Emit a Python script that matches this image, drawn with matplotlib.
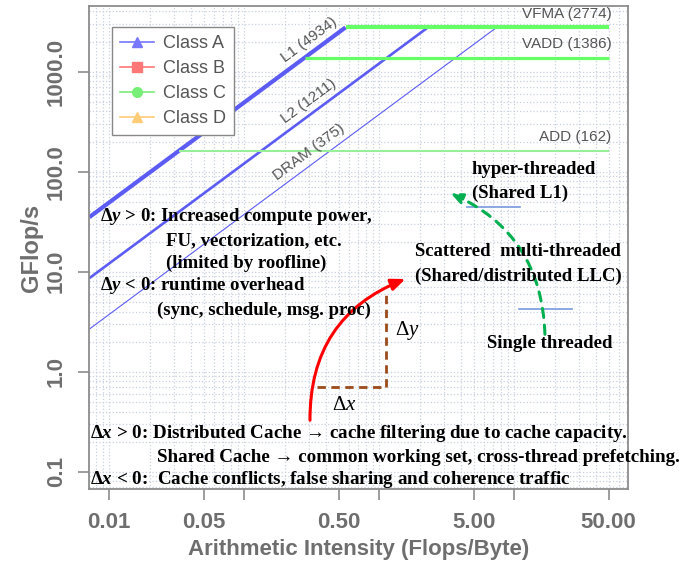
import numpy as np
import matplotlib
matplotlib.use("Agg")
from matplotlib import pyplot as plt
from matplotlib.lines import Line2D
from matplotlib.patches import FancyArrowPatch

plt.rcParams['font.family'] = ['Liberation Sans', 'DejaVu Sans']
plt.rcParams['mathtext.fontset'] = 'custom'
plt.rcParams['mathtext.rm'] = 'Liberation Serif'
plt.rcParams['mathtext.it'] = 'Liberation Serif:italic'
plt.rcParams['mathtext.bf'] = 'Liberation Serif:bold'
plt.rcParams['mathtext.bfit'] = 'Liberation Serif:bold:italic'

# roofline data
ceil_names = ["VFMA", "VADD", "ADD"]
ceil_gflops = [2774, 1386, 162]
bw_names = ["L1", "L2", "DRAM"]
bw_gbs = [4934, 1211, 375]
roof_xmax = 50.0

classes = ["Class A", "Class B", "Class C", "Class D"]
class_colors = ["#7777ff", "#ff7777", "#77ee77", "#ffcc77"]
class_markers = ["^", "s", "o", "^"]

xticks = [0.01, 0.05, 0.1, 0.5, 1, 5, 10, 50]
xticklabels = ["0.01", "0.05", "", "0.50", "", "5.00", "", "50.00"]
yticks = [0.1, 1, 10, 100, 1000]
yticklabels = ["0.1", "1.0", "10.0", "100.0", "1000.0"]

W, H = 699, 567
fig = plt.figure(figsize=(W / 100, H / 100), dpi=100)
ax = fig.add_axes([89.3 / W, 1 - 489.3 / H, (628 - 89.3) / W, (489.3 - 6) / H])
ax.set_xscale("log")
ax.set_yscale("log")
ax.set_xlim(0.00711, 69.5)
ax.set_ylim(0.0667, 4539)

gray = "#6e6e6e"
for s in ax.spines.values():
    s.set_color("#8c8c8c")
    s.set_linewidth(1.3)

ax.set_xticks(xticks)
ax.set_xticklabels(xticklabels)
ax.set_yticks(yticks)
ax.set_yticklabels(yticklabels, rotation=90, va="center")
ax.xaxis.set_minor_locator(matplotlib.ticker.LogLocator(subs=np.arange(2, 10), numticks=20))
ax.yaxis.set_minor_locator(matplotlib.ticker.LogLocator(subs=np.arange(2, 10), numticks=20))
ax.xaxis.set_minor_formatter(matplotlib.ticker.NullFormatter())
ax.yaxis.set_minor_formatter(matplotlib.ticker.NullFormatter())
ax.tick_params(which="major", direction="out", length=8, width=1.2, color="#8c8c8c",
               labelcolor=gray, labelsize=16, pad=8)
for lab in ax.get_xticklabels() + ax.get_yticklabels():
    lab.set_fontweight("bold")
ax.tick_params(which="minor", length=0)
ax.grid(which="both", color="#c9d0e0", linestyle=":", linewidth=0.9)
ax.set_axisbelow(True)

ax.set_xlabel("Arithmetic Intensity (Flops/Byte)", fontsize=16, fontweight="bold",
              color=gray, labelpad=5)
ax.set_ylabel("GFlop/s", fontsize=17, fontweight="bold", color=gray, labelpad=2)

# bandwidth roofs
x0 = ax.get_xlim()[0]
peak = max(ceil_gflops)
bw_lw = [3.0, 1.9, 0.8]
blue = "#5c5cf5"
fig.canvas.draw()
for name, bw, lw in zip(bw_names, bw_gbs, bw_lw):
    xr = peak / bw
    ax.plot([x0, xr], [bw * x0, bw * xr], color=blue, lw=lw, solid_capstyle="butt")
    xl = 0.3
    p1 = ax.transData.transform((xl, bw * xl))
    p2 = ax.transData.transform((xl * 10, bw * xl * 10))
    ang = np.degrees(np.arctan2(p2[1] - p1[1], p2[0] - p1[0]))
    ax.text(xl, bw * xl * 1.4, "%s (%d)" % (name, bw), rotation=ang, rotation_mode="anchor",
            ha="center", va="center", fontsize=11, color="#555555")

# compute ceilings
ceil_lw = [3.0, 2.3, 1.5]
ceil_colors = ["#66ff66", "#66ff66", "#99ee99"]
l1 = bw_gbs[0]
for name, c, lw, col in zip(ceil_names, ceil_gflops, ceil_lw, ceil_colors):
    ax.plot([c / l1, roof_xmax], [c, c], color=col, lw=lw, solid_capstyle="butt")
    ax.text(roof_xmax * 1.05, c * 1.37, "%s (%d)" % (name, c), ha="right", va="center",
            fontsize=11, color="#555555")

handles = [Line2D([], [], color=c, marker=m, markersize=7, lw=1.2)
           for c, m in zip(class_colors, class_markers)]
leg = ax.legend(handles, classes, loc="upper left",
                bbox_to_anchor=((111.7 - 89.3) / (628 - 89.3), 1 - (26.7 - 6) / (489.3 - 6)),
                borderaxespad=0, fontsize=13, handlelength=1.9, handletextpad=0.5,
                labelspacing=0.45, fancybox=False, framealpha=1, edgecolor="#888888",
                borderpad=0.45)
for t in leg.get_texts():
    t.set_color("#555555")


def px(x, y):
    return x / W, 1 - y / H


serif = ["Liberation Serif", "DejaVu Serif"]
tk = dict(transform=fig.transFigure, fontsize=13.5, fontweight="bold", family=serif,
          color="black", va="center", ha="left", zorder=10)

left_lines = [
    (100, 217, r"$\mathbf{\Delta}\mathbfit{y}$ > 0: Increased compute power,"),
    (166, 241, "FU, vectorization, etc."),
    (166, 263, "(limited by roofline)"),
    (100, 286, r"$\mathbf{\Delta}\mathbfit{y}$ < 0: runtime overhead"),
    (157, 310, "(sync, schedule, msg. proc)"),
]
for x, y, s in left_lines:
    fig.text(*px(x, y), s, **tk)

right_lines = [
    (472, 170, "hyper-threaded"),
    (472, 193, "(Shared L1)"),
    (415, 252, "Scattered  multi-threaded"),
    (415, 276, "(Shared/distributed LLC)"),
    (487, 343, "Single threaded"),
]
for x, y, s in right_lines:
    fig.text(*px(x, y), s, **tk)

bottom_lines = [
    (90, 434, r"$\mathbf{\Delta}\mathbfit{x}$ > 0: Distributed Cache → cache filtering due to cache capacity."),
    (157, 457, "Shared Cache → common working set, cross-thread prefetching."),
    (90, 479, r"$\mathbf{\Delta}\mathbfit{x}$ < 0:  Cache conflicts, false sharing and coherence traffic"),
]
tb = dict(tk)
tb["fontsize"] = 13.7
for x, y, s in bottom_lines:
    fig.text(*px(x, y), s, **tb)

# short blue markers under labels
for xa, xb, y in [(467, 520, 207), (519, 572, 309)]:
    fig.add_artist(Line2D([xa / W, xb / W], [1 - y / H, 1 - y / H], color="#7799dd", lw=1.2))

# delta box
brown = "#9c4a1a"
fig.add_artist(Line2D([317 / W, 386 / W], [1 - 387 / H, 1 - 387 / H], color=brown, lw=2, ls=(0, (3, 2))))
fig.add_artist(Line2D([386 / W, 386 / W], [1 - 387 / H, 1 - 293 / H], color=brown, lw=2, ls=(0, (3, 2))))
fig.text(*px(395, 330), r"$\Delta y$", transform=fig.transFigure, fontsize=15, va="center")
fig.text(*px(332, 405), r"$\Delta x$", transform=fig.transFigure, fontsize=15, va="center")

# arrows
red = FancyArrowPatch(px(310, 423), px(408, 278), transform=fig.transFigure,
                      connectionstyle="arc3,rad=-0.35", arrowstyle="-|>,head_length=0.6,head_width=0.25",
                      mutation_scale=14, color="#ff0000", lw=2.2, zorder=9)
fig.add_artist(red)
green = FancyArrowPatch(px(545, 337), px(448, 192), transform=fig.transFigure,
                        connectionstyle="arc3,rad=0.32", arrowstyle="-|>,head_length=0.5,head_width=0.22",
                        mutation_scale=14, color="#00b050", lw=2.2, ls=(0, (3, 2.5)), zorder=9)
fig.add_artist(green)

fig.savefig("out.png", dpi=100)
